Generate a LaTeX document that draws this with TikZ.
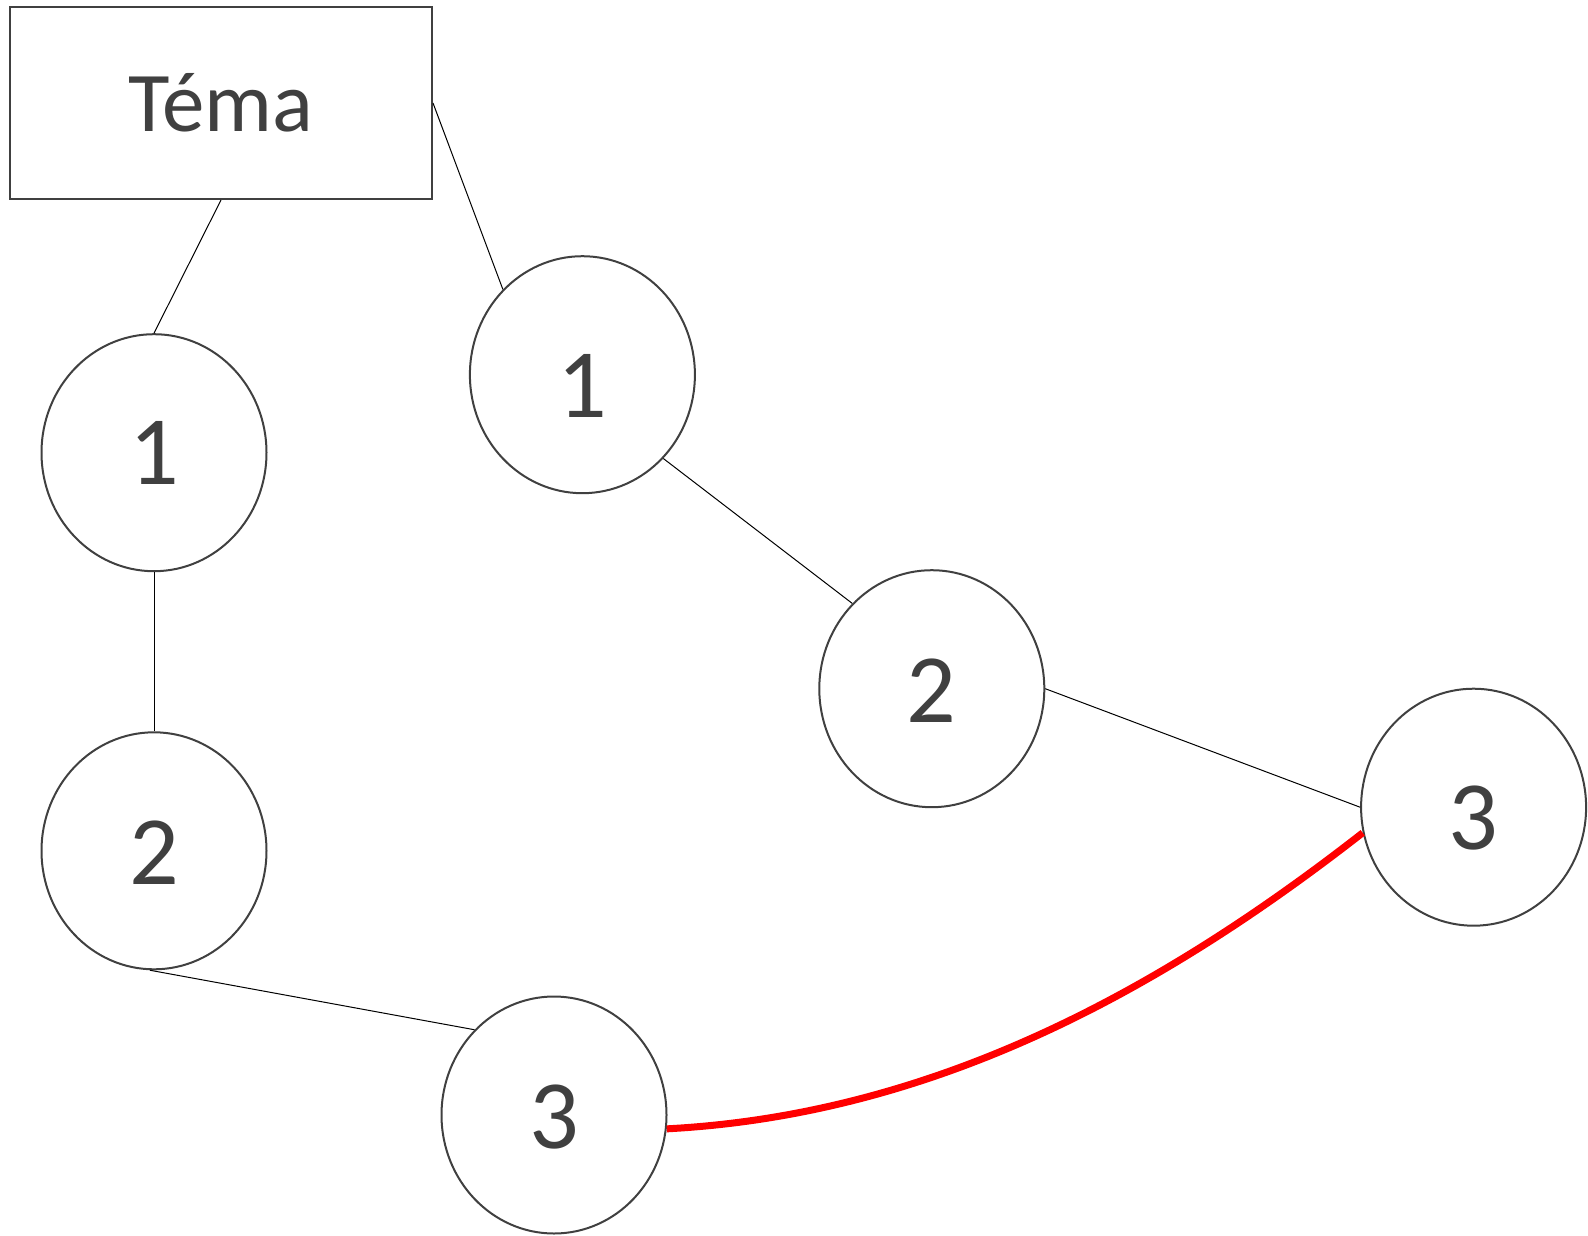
\documentclass[tikz,border=0pt]{standalone}
\usepackage{fontspec}
\setmainfont{Carlito}
\usetikzlibrary{shapes.geometric}
\definecolor{ink}{HTML}{404040}
\tikzset{
  bubble/.style={ellipse, draw=ink, line width=2pt, minimum width=225pt, minimum height=237pt, inner sep=0pt, text=ink, text depth=0pt, font=\fontsize{98}{98}\selectfont},
  topic/.style={rectangle, draw=ink, line width=2pt, minimum width=422pt, minimum height=192pt, inner sep=0pt, text=ink, font=\fontsize{85}{85}\selectfont},
  link/.style={black, line width=1pt},
  hot/.style={red, line width=7pt}
}
\begin{document}
\begin{tikzpicture}[x=1pt,y=-1pt]
\useasboundingbox (0,0) rectangle (1588,1235);
\node[topic] (tema) at (221,103) {Téma};
\node[bubble] (l1) at (154,452.7) {1};
\node[bubble] (l2) at (154,850.8) {\raisebox{-4pt}{2}};
\node[bubble] (l3) at (554,1115) {\raisebox{-4pt}{3}};
\node[bubble] (r1) at (582.4,374.7) {\raisebox{-22pt}{1}};
\node[bubble] (r2) at (931.8,688.7) {\raisebox{-4pt}{2}};
\node[bubble] (r3) at (1473.6,807.2) {\raisebox{-20pt}{3}};
\draw[link] (tema.south) -- (l1.north);
\draw[link] (tema.east) -- (r1.133);
\draw[link] (l1.south) -- (l2.north);
\draw[link] (l2.268) -- (l3.133);
\draw[link] (r1.-46) -- (r2.133);
\draw[link] (r2.east) -- (r3.west);
\draw[hot] (l3.-7) .. controls +(265,-14) and +(-205,160) .. (r3.193);
\end{tikzpicture}
\end{document}
